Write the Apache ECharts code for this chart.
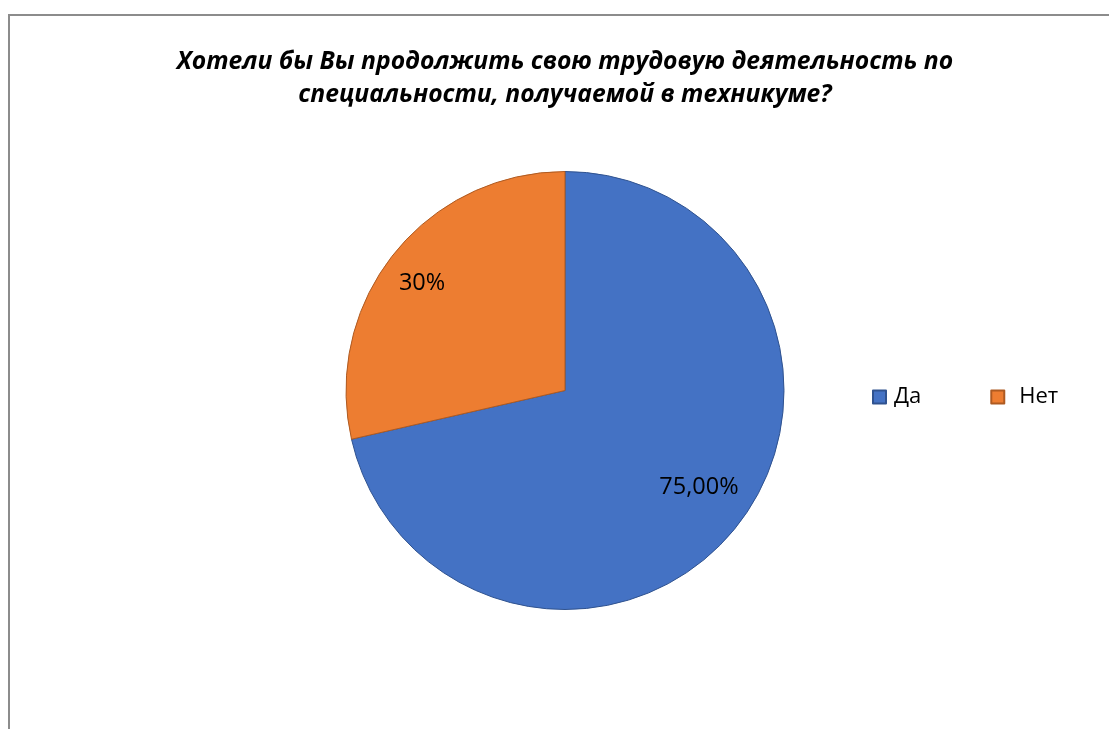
<!DOCTYPE html>
<html>
<head>
<meta charset="utf-8">
<script src="https://cdn.jsdelivr.net/npm/echarts@6/dist/echarts.min.js"></script>
<style>
    html, body { margin: 0; padding: 0; background: #fff; }
    #frame {
        position: absolute; left: 8px; top: 14px; width: 1101px; height: 715px;
        border-top: 2px solid #8c8c8c; border-left: 2px solid #8c8c8c;
    }
    #chart { position: absolute; left: 0; top: 0; width: 1109px; height: 729px; }
</style>
</head>
<body>
<div id="frame"></div>
<div id="chart"></div>
<script>
// данные опроса
var titleLines = ['Хотели бы Вы продолжить свою трудовую деятельность по', 'специальности, получаемой в техникуме?'];
var categories = ['Да', 'Нет'];
var values = [0.75, 0.30];
var valueLabels = ['75,00%', '30%'];

var colors = ['#4472c4', '#ed7d31'];
var borders = ['#2f528f', '#ae5a21'];
var labelOffsets = [[46, 27], [-55, -37]];

function formatData(){
    var data = [];
    for (var i = 0; i < categories.length; i++) {
        data.push({
            name: categories[i],
            value: values[i],
            itemStyle: { color: colors[i], borderColor: borders[i], borderWidth: 1 },
            label: { offset: labelOffsets[i] }
        });
    }
    return {
        animation: false,
        title: {
            text: titleLines.join('\n'),
            left: 560,
            textAlign: 'center',
            top: 40,
            textStyle: {
                fontFamily: 'Open Sans, Noto Sans, sans-serif',
                fontStyle: 'italic',
                fontWeight: 'bold',
                fontSize: 24.7,
                lineHeight: 33,
                color: '#000'
            }
        },
        legend: {
            data: [
                { name: 'Да', textStyle: { padding: [0, 0, 0, 3] } },
                { name: 'Нет', textStyle: { padding: [0, 0, 0, 10] } }
            ],
            left: 872,
            top: 386,
            padding: 0,
            icon: 'rect',
            itemWidth: 13,
            itemHeight: 13,
            itemGap: 69,
            textStyle: { fontFamily: 'Open Sans, Noto Sans, sans-serif', fontSize: 22, color: '#000' }
        },
        series: [{
            type: 'pie',
            center: [565, 390.5],
            radius: [0, 219],
            startAngle: 90,
            clockwise: true,
            label: {
                show: true,
                position: 'inside',
                formatter: function(p){ return valueLabels[p.dataIndex]; },
                fontFamily: 'Open Sans, Noto Sans, sans-serif',
                fontSize: 23.5,
                color: '#000'
            },
            labelLine: { show: false },
            emphasis: { disabled: true },
            data: data
        }]
    };
}

var myChart = echarts.init(document.getElementById('chart'), null, { renderer: 'canvas' });
myChart.setOption(formatData());
</script>
</body>
</html>
